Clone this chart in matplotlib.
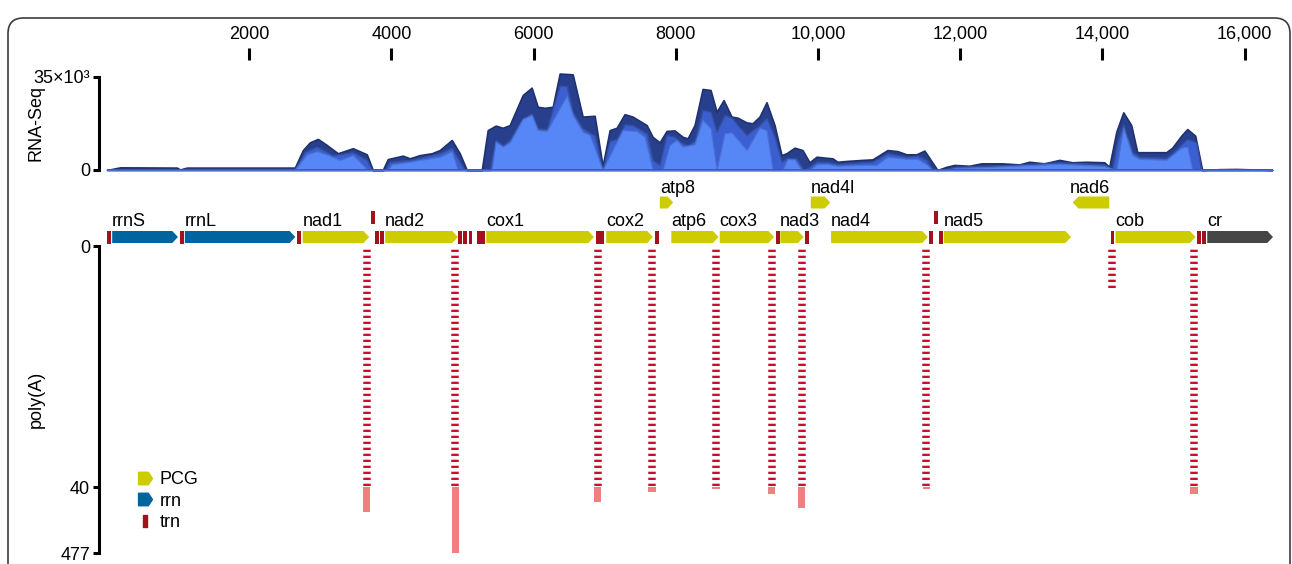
import numpy as np
import matplotlib.pyplot as plt
from matplotlib.path import Path
from matplotlib.patches import FancyBboxPatch
from matplotlib.lines import Line2D

plt.rcParams['font.family'] = ['Liberation Sans', 'DejaVu Sans']
plt.rcParams['lines.scale_dashes'] = False

genome_len = 16400
scale_ticks = [2000, 4000, 6000, 8000, 10000, 12000, 14000, 16000]
scale_labels = ['2000', '4000', '6000', '8000', '10,000', '12,000', '14,000', '16,000']

# RNA-Seq coverage, three overlaid samples (back to front)
dark_pos = [0, 183, 984, 1026, 1124, 2642, 2755, 2853, 2966, 3092, 3247, 3458, 3654, 3739,
            3879, 3949, 4160, 4259, 4399, 4568, 4680, 4849, 4961, 5060, 5271, 5355, 5467,
            5566, 5664, 5847, 5973, 6058, 6156, 6269, 6367, 6550, 6690, 6859, 6971, 7070,
            7168, 7280, 7393, 7590, 7674, 7772, 7871, 7983, 8096, 8166, 8264, 8377, 8489,
            8574, 8672, 8784, 8869, 8995, 9080, 9178, 9276, 9389, 9487, 9557, 9670, 9782,
            9881, 9979, 10120, 10204, 10274, 10401, 10626, 10766, 10864, 10977, 11118,
            11244, 11385, 11497, 11680, 11806, 11919, 12129, 12298, 12593, 12832, 12973,
            13183, 13394, 13577, 13774, 14027, 14097, 14196, 14294, 14406, 14491, 14898,
            14983, 15109, 15194, 15306, 15404, 15643, 15882, 16390]
dark_cov = [0, 1000, 900, 200, 900, 900, 7500, 10400, 11700, 9400, 6300, 8200, 5900, 0,
            0, 4100, 5400, 4400, 5600, 6300, 7500, 11300, 6300, 0, 0, 15000, 16700,
            15900, 16900, 28200, 31000, 23800, 23400, 23800, 36300, 36000, 20100, 20400, 1500, 15000,
            15900, 21000, 20100, 16900, 12500, 10400, 14700, 14900, 12500, 11900, 16900, 30500, 30100,
            21900, 26300, 20100, 19700, 17900, 17600, 20100, 25500, 16900, 5600, 6300, 8400, 7500,
            2900, 5000, 4600, 4400, 3100, 3400, 3800, 4000, 5600, 7500, 7100,
            5900, 5900, 7300, 0, 1200, 1900, 1600, 2500, 2500, 2100, 3100,
            2500, 3800, 2900, 3100, 2900, 1200, 14400, 21700, 16900, 6700, 6700,
            8400, 12900, 15400, 12900, 0, 300, 400, 0]

mid_pos = [0, 1026, 1124, 2642, 2783, 2951, 3176, 3458, 3654, 3725, 3907, 3977, 4259, 4680,
           4849, 4961, 5032, 5383, 5467, 5566, 5664, 5847, 5973, 6058, 6185, 6367, 6466,
           6550, 6690, 6859, 6971, 7070, 7168, 7280, 7393, 7590, 7674, 7772, 7871, 7983,
           8096, 8166, 8264, 8377, 8489, 8574, 8686, 8784, 8869, 8995, 9178, 9276, 9389,
           9487, 9571, 9698, 9796, 9881, 9979, 10120, 10274, 10626, 10766, 10977, 11244,
           11399, 11525, 11609, 11806, 11947, 12270, 12593, 13394, 14027, 14139, 14210,
           14294, 14420, 14519, 14898, 14983, 15124, 15194, 15320, 15390, 16390]
mid_cov = [300, 100, 400, 400, 6800, 8800, 5600, 6700, 3800, 0, 0, 3100, 3800, 6300,
           8400, 3100, 0, 0, 11300, 9400, 11300, 19400, 21300, 15700, 15400, 31700, 31700,
           21900, 15700, 12900, 0, 10900, 11700, 17200, 16900, 13800, 3800, 1900, 13200, 12500,
           10000, 9400, 10900, 22600, 21900, 14400, 20700, 19700, 16900, 13200, 16900, 19700, 12500,
           3100, 4600, 4400, 0, 1200, 3100, 3100, 2300, 2900, 3100, 6300, 5000,
           5400, 3800, 0, 400, 1200, 1500, 1700, 2900, 2100, 400, 10500,
           17200, 6700, 5000, 4600, 6300, 10000, 11700, 10500, 0, 0]

light_pos = [0, 2642, 2811, 2951, 3134, 3275, 3458, 3598, 3668, 3949, 4006, 4259, 4680, 4849,
             4933, 5411, 5467, 5566, 5664, 5847, 5973, 6058, 6185, 6466, 6550, 6690, 6789,
             6971, 7098, 7252, 7449, 7562, 7674, 7815, 7913, 8011, 8096, 8264, 8377, 8489,
             8574, 8686, 8784, 8995, 9178, 9276, 9361, 9501, 9571, 9670, 9768, 9881, 9979,
             10120, 10274, 10626, 10822, 10977, 11244, 11399, 11539, 11609, 11806, 11947,
             12270, 13394, 14027, 14196, 14294, 14420, 14519, 14898, 15109, 15194, 15264, 16390]
light_cov = [100, 100, 5900, 7100, 5400, 3800, 5600, 1900, 0, 0, 2100, 3100, 5000, 7100,
             0, 0, 10700, 8800, 10400, 19200, 20700, 15000, 14700, 28000, 20700, 14400, 13200,
             0, 6900, 15000, 14700, 12500, 0, 0, 9400, 11300, 8800, 9700, 18800, 15700,
             0, 13800, 14200, 7500, 15900, 15000, 0, 0, 4100, 4000, 0, 0, 2100,
             2300, 1600, 1900, 1900, 5000, 4200, 4200, 1900, 0, 0, 800,
             1000, 2300, 1500, 0, 15900, 5600, 4200, 3800, 8400, 8800, 0, 0]

# genes
gene_names = ['rrnS', 'rrnL', 'nad1', 'nad2', 'cox1', 'cox2', 'atp8', 'atp6', 'cox3', 'nad3',
              'nad4l', 'nad4', 'nad5', 'nad6', 'cob', 'cr']
gene_start = [73, 1095, 2752, 3913, 5334, 7022, 7775, 7937, 8618, 9470,
              9899, 10184, 11771, 13583, 14185, 15475]
gene_end = [998, 2649, 3688, 4936, 6850, 7678, 7964, 8602, 9382, 9799,
            10173, 11545, 13560, 14097, 15311, 16400]
gene_type = ['rrn', 'rrn', 'PCG', 'PCG', 'PCG', 'PCG', 'PCG', 'PCG', 'PCG', 'PCG',
             'PCG', 'PCG', 'PCG', 'PCG', 'PCG', 'cr']
gene_strand = [1, 1, 1, 1, 1, 1, 1, 1, 1, 1, 1, 1, 1, -1, 1, 1]
gene_row = [0, 0, 0, 0, 0, 0, 1, 0, 0, 0, 1, 0, 0, 1, 0, 0]

trn_start = [0, 1030, 2670, 3715, 3774, 3836, 4942, 5011, 5086, 5205, 6873, 6939,
             7706, 9407, 9822, 11567, 11637, 11700, 14115, 15334, 15398]
trn_end = [52, 1084, 2735, 3768, 3827, 3892, 4995, 5065, 5140, 5313, 6929, 6995,
           7760, 9463, 9877, 11624, 11694, 11755, 14170, 15390, 15454]
trn_row = [0, 0, 0, 1, 0, 0, 0, 0, 0, 0, 0, 0,
           0, 0, 0, 0, 1, 0, 0, 0, 0]

# poly(A) tail counts
polya_pos = [3650, 4898, 6901, 7667, 8564, 9349, 9772, 11525, 14136, 15291]
polya_val = [206, 477, 141, 75, 53, 86, 177, 53, 7, 86]

colors = {'PCG': '#cccc00', 'rrn': '#00649e', 'trn': '#a3121c', 'cr': '#464646'}
fs = 13

W, H = 1292, 564
fig = plt.figure(figsize=(W / 100, H / 100), dpi=100)

def box(left, top, right, bottom):
    return [left / W, 1 - bottom / H, (right - left) / W, (bottom - top) / H]

x0px, x1px = 107, 1273

# frame
frame = FancyBboxPatch((8 / W, -0.1), 1282 / W, 1.1 - 18 / H, transform=fig.transFigure,
                       boxstyle='round,pad=0,rounding_size=0.012', mutation_aspect=W / H,
                       facecolor='none', edgecolor='#3c3c3c', linewidth=1.2)
fig.patches.append(frame)

# RNA-Seq panel
ax = fig.add_axes(box(x0px, 77, x1px, 170))
ax.fill_between(dark_pos, dark_cov, color='#273f8c', edgecolor='#1f326f', linewidth=1.2, clip_on=False)
ax.fill_between(mid_pos, mid_cov, color='#3b5fd0', edgecolor='#33509f', linewidth=1.0, clip_on=False)
ax.fill_between(light_pos, light_cov, color='#5787f7', edgecolor='#4a72d6', linewidth=0.8, clip_on=False)
ax.axhline(0, color='#3a58b0', linewidth=2)
ax.set_xlim(0, genome_len)
ax.set_ylim(0, 35000)
ax.set_yticks([0, 35000])
ax.set_yticklabels(['0', '35×10³'])
ax.set_xticks(scale_ticks)
ax.set_xticklabels(scale_labels)
ax.xaxis.set_ticks_position('top')
ax.spines['top'].set_position(('outward', 12.2))
ax.spines['top'].set_color('none')
ax.spines['bottom'].set_visible(False)
ax.spines['right'].set_visible(False)
ax.spines['left'].set_position(('outward', 5.8))
ax.spines['left'].set_linewidth(2.2)
ax.spines['left'].set_bounds(0, 35000)
ax.tick_params(axis='x', length=8.6, width=2.2, pad=4.0, labelsize=fs)
ax.tick_params(axis='y', length=4.3, width=2.2, pad=2, labelsize=fs)
ax.set_ylabel('RNA-Seq', fontsize=fs)
ax.yaxis.set_label_coords((45 - x0px) / (x1px - x0px), 0.5)
ax.patch.set_visible(False)

# gene track
ag = fig.add_axes(box(x0px, 180, x1px, 246))
ag.set_xlim(0, genome_len)
ag.set_ylim(0, 66)
ag.axis('off')
row_y = [9, 43.5]
label_y = [20, 53]
h = 12
tip = 80
for name, s, e, t, st, r in zip(gene_names, gene_start, gene_end, gene_type, gene_strand, gene_row):
    yc = row_y[r]
    if st > 0:
        xs = [s, e - tip, e, e - tip, s]
    else:
        xs = [e, s + tip, s, s + tip, e]
    ys = [yc - h / 2, yc - h / 2, yc, yc + h / 2, yc + h / 2]
    ag.fill(xs, ys, color=colors[t], linewidth=0)
    lx = s if st > 0 else s - 40
    ag.text(lx, label_y[r], name, fontsize=fs, ha='left', va='baseline')

for s, e, r in zip(trn_start, trn_end, trn_row):
    yb = 2.5 if r == 0 else 22
    ag.bar(s, 13, width=e - s, bottom=yb, align='edge', color=colors['trn'], linewidth=0)

# poly(A) panel
k = (66 / 437) / (241 / 40)

def fwd(v):
    v = np.asarray(v, dtype=float)
    return np.where(v <= 40, v, 40 + (v - 40) * k)

def inv(v):
    v = np.asarray(v, dtype=float)
    return np.where(v <= 40, v, 40 + (v - 40) / k)

ap = fig.add_axes(box(x0px, 246, x1px, 553))
ap.set_yscale('function', functions=(fwd, inv))
ap.set_xlim(0, genome_len)
ap.set_ylim(477, 0)
pos = np.array(polya_pos)
val = np.array(polya_val)
ap.vlines(pos, 0, np.minimum(val, 40), colors='#c8102e', linewidth=5.4,
          linestyles=[(1.66, (1.66, 2.66))], capstyle='butt')
high = val > 40
ap.bar(pos[high], val[high] - 40, bottom=40, width=105, color='#f08080', linewidth=0)
ap.set_yticks([0, 40, 477])
ap.set_yticklabels(['0', '40', '477'])
ap.set_xticks([])
for sp in ['top', 'right', 'bottom']:
    ap.spines[sp].set_visible(False)
ap.spines['left'].set_position(('outward', 5.8))
ap.spines['left'].set_linewidth(2.2)
ap.tick_params(axis='y', length=4.3, width=2.2, pad=2, labelsize=fs)
ap.set_ylabel('poly(A)', fontsize=fs)
ap.yaxis.set_label_coords((45 - x0px) / (x1px - x0px), 0.5)
ap.patch.set_visible(False)

# legend
arrow_marker = Path([(-0.5, -0.45), (0.2, -0.45), (0.5, 0), (0.2, 0.45), (-0.5, 0.45), (-0.5, -0.45)],
                    [Path.MOVETO, Path.LINETO, Path.LINETO, Path.LINETO, Path.LINETO, Path.CLOSEPOLY])
bar_marker = Path([(-0.15, -0.5), (0.15, -0.5), (0.15, 0.5), (-0.15, 0.5), (-0.15, -0.5)],
                  [Path.MOVETO, Path.LINETO, Path.LINETO, Path.LINETO, Path.CLOSEPOLY])
handles = [Line2D([], [], marker=arrow_marker, color=colors['PCG'], markersize=10, linestyle='none'),
           Line2D([], [], marker=arrow_marker, color=colors['rrn'], markersize=10, linestyle='none'),
           Line2D([], [], marker=bar_marker, color=colors['trn'], markersize=9, linestyle='none')]
fig.legend(handles, ['PCG', 'rrn', 'trn'], loc='upper left', bbox_to_anchor=(137 / W, 1 - 471 / H),
           frameon=False, fontsize=fs, handlelength=0.9, handletextpad=0.35,
           labelspacing=0.25, borderpad=0, borderaxespad=0)

fig.savefig('out.png', dpi=100)
